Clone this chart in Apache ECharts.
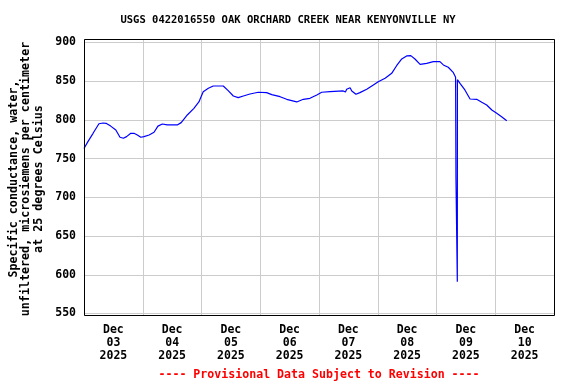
<!DOCTYPE html>
<html>
<head>
<meta charset="utf-8">
<script src="https://cdn.jsdelivr.net/npm/echarts@6/dist/echarts.min.js"></script>
<style>html,body{margin:0;padding:0;background:#fff}#c{width:576px;height:384px}</style>
</head>
<body>
<div id="c"></div>
<script>
// hours since 2025-12-03 00:00
var hours = [0,1.6,3.7,6.1,7.8,9.0,10.9,13.0,14.7,16.1,17.4,19.1,20.4,21.8,23.2,24.5,26.6,28.6,30.2,32.0,34.0,38.1,39.7,42.2,44.9,47.0,47.4,48.7,50.8,52.8,56.9,58.9,61.0,63.0,65.1,67.8,71.2,74.6,76.7,80.1,82.8,86.9,89.6,92.3,95.1,97.1,100.5,105.9,106.8,107.3,107.8,108.7,109.4,111.1,112.7,115.5,118.2,120.2,123.0,125.7,127.7,129.8,131.8,133.5,135.2,137.3,140.0,142.7,145.4,146.8,148.8,150.9,151.8,151.95,152.5,152.55,153.6,155.6,157.7,160.4,162.5,164.5,166.6,168.6,170.6,172.7];
var conductance = [763,772,782.7,795,796,795.6,792,787,777.6,776.3,778.4,782.7,782.7,780.5,777.6,778.4,780.5,784,792,794.7,793.5,793.5,796.5,806.4,815,823.5,826.6,836.5,840.8,843.8,843.8,837.8,830.9,828.7,830.9,833.5,835.7,835.2,832.6,830,826.6,823.2,826.6,827.9,832.2,835.7,836.5,837.4,836,839.6,838,841.6,837.4,833.1,835.2,839.6,845.1,849.4,853.8,860.2,870,878.7,882.6,883,878.7,871.8,873.1,875.2,875.2,871,868,861,855,725,591,852,847.3,838.7,827,826.6,822.8,819.3,812.8,808.6,804.2,799];
var dayLabels = ['03','04','05','06','07','08','09','10'];
var yTicks = [550,600,650,700,750,800,850,900];

var titleText = 'USGS 0422016550 OAK ORCHARD CREEK NEAR KENYONVILLE NY';
var yName = 'Specific conductance, water,\nunfiltered, microsiemens per centimeter\nat 25 degrees Celsius';
var footer = '---- Provisional Data Subject to Revision ----';

var data = hours.map(function(h,i){return [h, conductance[i]];});
var FONT = '"DejaVu Sans Mono", monospace';

var chart = echarts.init(document.getElementById('c'), null, {renderer:'canvas'});
chart.setOption({
  animation: false,
  backgroundColor: '#fff',
  grid: {left: 84, right: 22, top: 39, bottom: 68.5, show: false, containLabel: false},
  xAxis: [{
    type: 'value', min: 0, max: 192, interval: 12,
    axisLine: {show: false}, axisTick: {show: false}, splitLine: {show: false},
    axisLabel: {
      fontFamily: FONT, fontWeight: 'bold', fontSize: 11.5, color: '#000', lineHeight: 13, margin: 8,
      formatter: function(v){
        if (Math.round(v) % 24 === 12) { var d = Math.floor(v/24); return 'Dec\n' + dayLabels[d] + '\n2025'; }
        return '';
      }
    }
  },{
    type: 'value', min: 0, max: 192, interval: 24, position: 'bottom',
    axisLine: {show: false}, axisTick: {show: false}, axisLabel: {show: false},
    splitLine: {show: true, lineStyle: {color: '#cccccc', width: 1}}
  }],
  yAxis: {
    type: 'value', min: 547.4, max: 904.5, minInterval: 50, maxInterval: 50,
    axisLine: {show: false}, axisTick: {show: false},
    splitLine: {show: true, lineStyle: {color: '#cccccc', width: 1}},
    axisLabel: {
      fontFamily: FONT, fontWeight: 'bold', fontSize: 11.5, color: '#000', margin: 8,
      showMinLabel: false, showMaxLabel: false,
      formatter: function(v){ return yTicks.indexOf(Math.round(v)) >= 0 && Math.abs(v - Math.round(v)) < 1e-6 ? String(Math.round(v)) : ''; }
    }
  },
  series: [{
    type: 'line', xAxisIndex: 0, data: data, showSymbol: false, symbol: 'none',
    lineStyle: {color: '#0000ff', width: 1.2}, itemStyle: {color: '#0000ff'}
  }],
  graphic: [
    {type: 'rect', z: 100, silent: true, shape: {x: 84.5, y: 39.5, width: 470, height: 276},
      style: {fill: null, stroke: '#000', lineWidth: 1}},
    {type: 'text', left: 'center', top: 15, style: {text: titleText, font: 'bold 10.5px ' + FONT, fill: '#000'}},
    {type: 'text', x: 26, y: 179, rotation: Math.PI/2,
      style: {text: yName, font: 'bold 11.7px ' + FONT, fill: '#000', textAlign: 'center', textVerticalAlign: 'middle', lineHeight: 12.5}},
    {type: 'text', x: 319, y: 375, style: {text: footer, font: 'bold 11.6px ' + FONT, fill: '#ff0000', textAlign: 'center', textVerticalAlign: 'middle'}}
  ]
});
</script>
</body>
</html>
